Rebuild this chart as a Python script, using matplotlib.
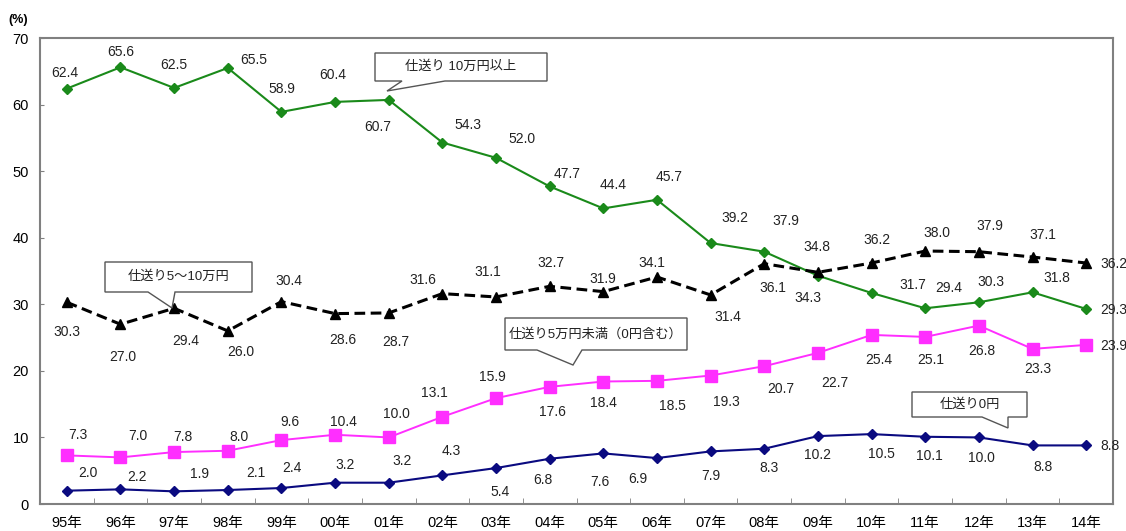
import matplotlib.pyplot as plt
from matplotlib.patches import Polygon
import numpy as np

plt.rcParams['font.family'] = ['Liberation Sans', 'Noto Sans CJK JP', 'DejaVu Sans']

years = ['95年', '96年', '97年', '98年', '99年', '00年', '01年', '02年', '03年', '04年',
         '05年', '06年', '07年', '08年', '09年', '10年', '11年', '12年', '13年', '14年']
over_10man = [62.4, 65.6, 62.5, 65.5, 58.9, 60.4, 60.7, 54.3, 52.0, 47.7,
              44.4, 45.7, 39.2, 37.9, 34.3, 31.7, 29.4, 30.3, 31.8, 29.3]
from_5_to_10man = [30.3, 27.0, 29.4, 26.0, 30.4, 28.6, 28.7, 31.6, 31.1, 32.7,
                   31.9, 34.1, 31.4, 36.1, 34.8, 36.2, 38.0, 37.9, 37.1, 36.2]
under_5man = [7.3, 7.0, 7.8, 8.0, 9.6, 10.4, 10.0, 13.1, 15.9, 17.6,
              18.4, 18.5, 19.3, 20.7, 22.7, 25.4, 25.1, 26.8, 23.3, 23.9]
zero_yen = [2.0, 2.2, 1.9, 2.1, 2.4, 3.2, 3.2, 4.3, 5.4, 6.8,
            7.6, 6.9, 7.9, 8.3, 10.2, 10.5, 10.1, 10.0, 8.8, 8.8]

# label offsets in pixels (dx, dy) from each marker; last point is labelled to the right
off_green = [(-2, 16), (0, 15), (0, 23), (26, 8), (0, 23), (-2, 27), (-11, -27), (26, 18),
             (26, 19), (17, 12), (10, 23), (12, 23), (24, 25), (22, 31), (-10, -22),
             (41, 8), (24, 20), (12, 20), (24, 14)]
off_black = [(0, -30), (2, -33), (12, -33), (13, -21), (7, 21), (8, -26), (7, -29), (-20, 14),
             (-8, 25), (1, 23), (-1, 13), (-5, 14), (17, -22), (9, -24), (-1, 25),
             (5, 23), (12, 18), (11, 26), (10, 22)]
off_pink = [(11, 20), (17, 21), (9, 15), (11, 14), (9, 18), (8, 13), (8, 23), (-8, 24),
            (-4, 21), (3, -25), (0, -21), (15, -25), (16, -26), (17, -23), (17, -30),
            (7, -25), (6, -23), (3, -25), (5, -20)]
off_navy = [(21, 18), (17, 12), (25, 17), (28, 17), (11, 20), (10, 18), (13, 22), (9, 24),
            (4, -24), (-7, -21), (-3, -29), (-19, -21), (0, -25), (5, -19), (0, -19),
            (10, -20), (4, -19), (3, -21), (10, -22)]

W, H, DPI = 1126, 531, 100
fig = plt.figure(figsize=(W / DPI, H / DPI), dpi=DPI)
ax = fig.add_axes([40 / W, 1 - 504 / H, (1113 - 40) / W, (504 - 38) / H])

x = np.arange(len(years))
series = [
    (over_10man, dict(color='#1a8a1a', lw=1.5, marker='D', ms=5.5), off_green),
    (from_5_to_10man, dict(color='black', lw=2.2, ls=(0, (3.5, 1.8)), marker='^', ms=7), off_black),
    (under_5man, dict(color='#ff2eff', lw=1.4, marker='s', ms=8), off_pink),
    (zero_yen, dict(color='#0a0a80', lw=1.5, marker='D', ms=5), off_navy),
]
for vals, style, offs in series:
    ax.plot(x, vals, zorder=3, **style)
    for i, v in enumerate(vals[:-1]):
        ax.annotate(f'{v:.1f}', (x[i], v), xytext=offs[i], textcoords='offset pixels',
                    ha='center', va='center', fontsize=10, color='#222222')
    ax.annotate(f'{vals[-1]:.1f}', (x[-1], vals[-1]), xytext=(14, -1),
                textcoords='offset pixels', ha='left', va='center',
                fontsize=10, color='#222222')

ax.set_xlim(-0.5, len(years) - 0.5)
ax.set_ylim(0, 70)
ax.set_yticks(range(0, 71, 10))
ax.set_xticks(x)
ax.set_xticklabels(years, fontsize=10.5)
ax.set_xticks(np.arange(0.5, len(years) - 1, 1), minor=True)
ax.tick_params(axis='x', which='major', length=0, pad=9)
ax.tick_params(axis='x', which='minor', direction='in', length=4, color='#808080')
ax.tick_params(axis='y', direction='in', length=3, color='#808080', labelsize=10.5, pad=8)
for s in ax.spines.values():
    s.set_color('#808080')
    s.set_linewidth(1.5)

fig.text(18 / W, 1 - 20 / H, '(%)', ha='center', va='center', fontsize=9, fontweight='bold')


def callout(box, base, tip, text):
    x0, y0, x1, y1 = box
    pts = [(x0, y0), (x1, y0), (x1, y1), (max(base), y1), tip, (min(base), y1), (x0, y1)]
    pts = [(px / W, 1 - py / H) for px, py in pts]
    fig.patches.append(Polygon(pts, closed=True, transform=fig.transFigure,
                               facecolor='white', edgecolor='#555555', lw=1.0, zorder=5))
    fig.text((x0 + x1) / 2 / W, 1 - (y0 + y1) / 2 / H, text, ha='center', va='center',
             fontsize=9.5, color='#222222', zorder=6)


callout((375, 53, 547, 81), (402, 445), (387, 91), '仕送り 10万円以上')
callout((105, 262, 252, 292), (148, 175), (172, 308), '仕送り5～10万円')
callout((505, 318, 687, 350), (537, 582), (573, 365), '仕送り5万円未満（0円含む）')
callout((912, 392, 1027, 417), (982, 1008), (1008, 428), '仕送り0円')

fig.savefig('out.png', dpi=DPI, facecolor='white')
